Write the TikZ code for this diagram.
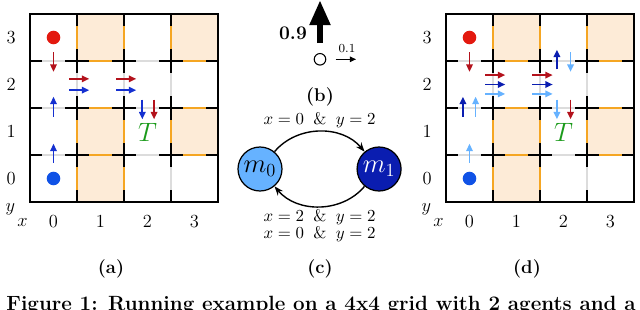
\documentclass[tikz,border=0pt]{standalone}
\usepackage{amsmath,amssymb}
\usepackage{xcolor}
\usepackage{tikz}
\usetikzlibrary{arrows.meta,positioning}
\definecolor{gridorange}{HTML}{F5A623}
\definecolor{gridpeach}{HTML}{FDEBD7}
\definecolor{gridgray}{HTML}{DCDCDC}
\definecolor{agentred}{HTML}{E3190F}
\definecolor{movered}{HTML}{B3121C}
\definecolor{agentblue}{HTML}{1052E6}
\definecolor{moveblue}{HTML}{1530D0}
\definecolor{darkblue}{HTML}{0A1DB0}
\definecolor{lightblue}{HTML}{66B2FF}
\definecolor{targetgreen}{HTML}{1A9A1A}

\begin{document}
\begin{tikzpicture}[
  x=0.65pt,y=-0.65pt,
  cell/.style={fill=gridpeach,draw=gridorange,line width=0.8pt},
  inner/.style={draw=gridgray,line width=0.8pt},
  cross/.style={line width=0.8pt,dash pattern=on 15.28pt off 15.28pt,dash phase=7.64pt},
  move/.style={-{Triangle[length=4.8pt,width=4.2pt]},line width=1.1pt},
  agent/.style={circle,inner sep=0pt,minimum size=8.8pt},
  sub/.style={font=\large\bfseries},
  mem/.style={circle,draw,line width=0.8pt,minimum size=28.6pt,inner sep=0pt,font=\LARGE},
  cond/.style={font=\fontsize{10.5}{11}\selectfont},
  arrow/.style={-{Stealth[length=6pt]},line width=0.9pt}
]
  \useasboundingbox (0,0) rectangle (640,309);
  \clip (0,0) rectangle (640,309);

  \foreach \gx/\gn in {30/a,446/d} {
    \begin{scope}[shift={(\gx,202)},x=30.55pt,y=30.55pt]
      \foreach \k in {1,2,3} {
        \draw[inner] (\k,0) -- (\k,4);
        \draw[inner] (0,\k) -- (4,\k);
      }
      \foreach \c/\r in {1/3,3/3,1/1,3/1,1/0}
        \draw[cell] (\c,\r) rectangle ++(1,1);
      \foreach \k in {1,2,3} {
        \draw[cross] (\k,0) -- (\k,4);
        \draw[cross] (0,\k) -- (4,\k);
      }
      \draw[line width=0.9pt] (0,0) rectangle (4,4);
      \foreach \k in {0,1,2,3} {
        \node[font=\large] (\gn-row\k) at (-0.4,\k+0.5) {\k};
        \node[font=\large] (\gn-col\k) at (\k+0.5,-0.42) {\k};
      }
      \node[font=\large] (\gn-y) at (-0.42,-0.16) {$y$};
      \node[font=\large] (\gn-x) at (-0.16,-0.44) {$x$};
      \node[agent,fill=agentred] (\gn-red) at (0.5,3.5) {};
      \node[agent,fill=agentblue] (\gn-blue) at (0.5,0.5) {};
      \node[text=targetgreen,font=\LARGE] (\gn-target) at (2.5,1.47) {$T$};
      \draw[move,movered] (0.5,3.19) -- (0.5,2.77);
    \end{scope}
  }

  \begin{scope}[shift={(30,202)},x=30.55pt,y=30.55pt]
    \draw[move,movered] (0.83,2.62) -- (1.26,2.62);
    \draw[move,movered] (1.83,2.62) -- (2.26,2.62);
    \draw[move,moveblue] (0.83,2.38) -- (1.26,2.38);
    \draw[move,moveblue] (1.83,2.38) -- (2.26,2.38);
    \draw[move,moveblue] (0.5,1.81) -- (0.5,2.24);
    \draw[move,moveblue] (0.5,0.83) -- (0.5,1.24);
    \draw[move,moveblue] (2.39,2.18) -- (2.39,1.76);
    \draw[move,movered] (2.64,2.18) -- (2.64,1.76);
  \end{scope}

  \begin{scope}[shift={(446,202)},x=30.55pt,y=30.55pt]
    \draw[move,movered] (0.83,2.7) -- (1.26,2.7);
    \draw[move,movered] (1.84,2.7) -- (2.27,2.7);
    \draw[move,darkblue] (0.83,2.5) -- (1.26,2.5);
    \draw[move,darkblue] (1.84,2.5) -- (2.27,2.5);
    \draw[move,lightblue] (0.83,2.3) -- (1.26,2.3);
    \draw[move,lightblue] (1.84,2.3) -- (2.27,2.3);
    \draw[move,darkblue] (0.36,1.81) -- (0.36,2.24);
    \draw[move,lightblue] (0.63,1.81) -- (0.63,2.24);
    \draw[move,lightblue] (0.5,0.83) -- (0.5,1.24);
    \draw[move,darkblue] (2.36,2.82) -- (2.36,3.24);
    \draw[move,lightblue] (2.65,3.19) -- (2.65,2.77);
    \draw[move,lightblue] (2.36,2.18) -- (2.36,1.76);
    \draw[move,movered] (2.65,2.18) -- (2.65,1.76);
  \end{scope}

  \node[circle,draw,line width=0.7pt,minimum size=7.5pt,inner sep=0pt] (pos) at (320,59.3) {};
  \coordinate (tail) at (320,43);
  \coordinate (neck) at (320,25);
  \coordinate (up) at (320,1);
  \coordinate (east) at (356,59.3);
  \draw[line width=4pt] (tail) -- (neck);
  \fill (up) -- ([xshift=-7pt]neck) -- ([xshift=7pt]neck) -- cycle;
  \draw[line width=0.7pt,-{Triangle[length=4pt,width=3.6pt]}] ([xshift=6pt]pos.east) -- (east);
  \node[font=\bfseries\fontsize{12.5}{14}\selectfont] (pup) at (293,33) {0.9};
  \node[font=\footnotesize] (peast) at (347,49) {0.1};
  \node[sub] (capb) at (320,97) {(b)};

  \node[mem,fill=lightblue] (m0) at (260,169) {$m_0$};
  \node[mem,fill=darkblue,text=white,right=48pt of m0] (m1) {$m_1$};
  \draw[arrow] (m0) to[bend left=50] node[above,inner sep=2pt,cond] {$x=0\;\;\&\;\;y=2$} (m1);
  \draw[arrow] (m1) to[bend left=50] node[below,inner sep=1.5pt,cond,align=center]
    {$x=2\;\;\&\;\;y=2$\\$x=0\;\;\&\;\;y=2$} (m0);

  \node[sub] (capa) at (111,269) {(a)};
  \node[sub] (capc) at (320,269) {(c)};
  \node[sub] (capd) at (527,269) {(d)};
  \node[anchor=base west,font=\bfseries\fontsize{13.4}{15}\selectfont] (caption) at (1,310)
    {Figure 1: Running example on a 4x4 grid with 2 agents and a};
\end{tikzpicture}
\end{document}
